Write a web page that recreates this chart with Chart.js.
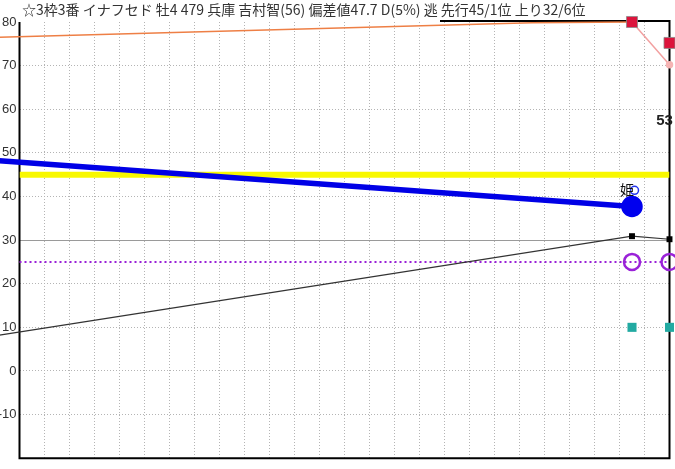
<!DOCTYPE html>
<html>
<head>
<meta charset="utf-8">
<script src="https://cdn.jsdelivr.net/npm/chart.js@4.4.1/dist/chart.umd.min.js"></script>
<style>
  html, body { margin: 0; padding: 0; background: #fff; overflow: hidden; }
  #wrap { position: relative; width: 675px; height: 469px; overflow: hidden; }
  #pace-chart { position: absolute; left: -12px; top: 0; }
</style>
</head>
<body>
<div id="wrap"><canvas id="pace-chart" width="687" height="469"></canvas></div>
<script>
// title line of the horse
const titleText = "☆3枠3番 イナフセド 牡4 479 兵庫 吉村智(56) 偏差値47.7 D(5%) 逃 先行45/1位 上り32/6位";

// y axis ticks
const yTicks = [-20, -10, 0, 10, 20, 30, 40, 50, 60, 70, 80];

// series (x = race slot, y = index value)
const orangeX = [-0.8, 20.5, 24.5];
const orangeY = [76.5, 79.85, 80];
const pinkX = [24.5, 26];
const pinkY = [80, 70.2];
const redX = [26];
const redY = [75.2];
const blueX = [-0.8, 24.5];
const blueY = [48.2, 37.7];
const himeX = [24.6];
const himeY = [41.4];
const yellowX = [0, 26];
const yellowY = [45, 45];
const purpleX = [0, 24.5, 26];
const purpleY = [25, 25, 25];
const blackX = [-0.8, 24.5, 26];
const blackY = [8.2, 30.9, 30.2];
const tealX = [24.5, 26];
const tealY = [10, 10];

function pts(xs, ys) {
    return xs.map(function (x, i) { return { x: x, y: ys[i] }; });
}

const framePlugin = {
    id: 'frame',
    beforeDatasetsDraw: function (chart) {
        const a = chart.chartArea;
        const ctx = chart.ctx;
        ctx.save();
        ctx.strokeStyle = '#000';
        ctx.lineWidth = 2;
        ctx.beginPath();
        ctx.moveTo(a.left, a.top);
        ctx.lineTo(a.left, a.bottom);
        ctx.lineTo(a.right, a.bottom);
        ctx.lineTo(a.right, a.top - 1);
        ctx.lineTo(452, a.top - 1);
        ctx.stroke();
        ctx.restore();
    }
};

const textPlugin = {
    id: 'texts',
    afterDatasetsDraw: function (chart) {
        const ctx = chart.ctx;
        const xs = chart.scales.x, ys = chart.scales.y;
        ctx.save();
        ctx.textBaseline = 'middle';
        ctx.fillStyle = '#333';
        ctx.font = '14px "Noto Sans CJK JP", sans-serif';
        ctx.textAlign = 'left';
        ctx.fillText(titleText, 34, 10);

        ctx.fillStyle = '#111';
        ctx.font = '14px "Noto Sans CJK JP", sans-serif';
        ctx.textAlign = 'center';
        ctx.fillText('姫', xs.getPixelForValue(24.3), ys.getPixelForValue(41.6));

        ctx.font = 'bold 15px "Liberation Sans", Arial, sans-serif';
        ctx.fillStyle = '#222';
        ctx.fillText('53', xs.getPixelForValue(26) - 5, ys.getPixelForValue(57.3));
        ctx.restore();
    }
};

new Chart(document.getElementById("pace-chart"), {
    type: 'scatter',
    data: {
        datasets: [
            {
                label: 'hime',
                data: pts(himeX, himeY),
                pointRadius: 4,
                pointBorderWidth: 1.5,
                pointBorderColor: '#2233ee',
                pointBackgroundColor: '#fff',
                clip: false
            },
            {
                label: 'blue',
                data: pts(blueX, blueY),
                showLine: true,
                borderColor: '#0000e6',
                borderWidth: 5.5,
                pointRadius: [0, 8],
                pointBackgroundColor: '#0000ee',
                pointBorderColor: '#0000ee',
                clip: false
            },
            {
                label: 'orange',
                data: pts(orangeX, orangeY),
                showLine: true,
                borderColor: '#ee7f45',
                borderWidth: 1.5,
                pointStyle: 'rect',
                pointRadius: [0, 0, 7.8],
                pointBackgroundColor: '#dc143c',
                pointBorderColor: 'rgba(140,140,140,0.8)',
                pointBorderWidth: 1,
                clip: false
            },
            {
                label: 'pink',
                data: pts(pinkX, pinkY),
                showLine: true,
                borderColor: '#f2a0a0',
                borderWidth: 1.5,
                pointRadius: [0, 3],
                pointBackgroundColor: '#f6b4b4',
                pointBorderColor: '#f6b4b4',
                clip: false
            },
            {
                label: 'red',
                data: pts(redX, redY),
                pointStyle: 'rect',
                pointRadius: 7.8,
                pointBackgroundColor: '#dc143c',
                pointBorderColor: 'rgba(140,140,140,0.8)',
                pointBorderWidth: 1,
                clip: false
            },
            {
                label: 'black',
                data: pts(blackX, blackY),
                showLine: true,
                borderColor: '#333',
                borderWidth: 1.2,
                pointStyle: 'rect',
                pointRadius: [0, 4.2, 4.2],
                pointBackgroundColor: '#000',
                pointBorderColor: '#000',
                pointBorderWidth: 0,
                clip: false
            },
            {
                label: 'purple',
                data: pts(purpleX, purpleY),
                showLine: true,
                borderColor: '#9a22d8',
                borderWidth: 2,
                borderDash: [2, 3],
                pointRadius: [0, 8, 8],
                pointBorderWidth: 2.5,
                pointBorderColor: '#9a22d8',
                pointBackgroundColor: 'rgba(255,255,255,0)',
                clip: false
            },
            {
                label: 'teal',
                data: pts(tealX, tealY),
                pointStyle: 'rect',
                pointRadius: 6.4,
                pointBackgroundColor: '#22aaa2',
                pointBorderColor: '#22aaa2',
                pointBorderWidth: 0,
                clip: false
            },
            {
                label: 'yellow',
                data: pts(yellowX, yellowY),
                showLine: true,
                borderColor: '#f8f800',
                borderWidth: 6,
                pointRadius: 0
            }
        ]
    },
    options: {
        responsive: false,
        animation: false,
        events: [],
        layout: { autoPadding: false, padding: { top: 22, right: 5.5, bottom: 3.8, left: 0 } },
        plugins: {
            legend: { display: false },
            title: { display: false },
            tooltip: { enabled: false }
        },
        scales: {
            x: {
                type: 'linear',
                min: 0,
                max: 26,
                afterFit: function (scale) { scale.height = 0; },
                ticks: { display: false, stepSize: 1 },
                grid: {
                    color: function (c) { return (c.tick.value === 0 || c.tick.value === 26) ? 'rgba(0,0,0,0)' : '#b4b4b4'; },
                    lineWidth: 1,
                    drawTicks: false
                },
                border: { display: false, dash: [1, 2] }
            },
            y: {
                min: -20,
                max: 80,
                afterFit: function (scale) { scale.width = 31.5; },
                afterBuildTicks: function (scale) {
                    scale.ticks = yTicks.map(function (v) { return { value: v }; });
                },
                ticks: {
                    padding: 3,
                    color: '#333',
                    font: { family: '"Liberation Sans", Arial, sans-serif', size: 13 },
                    callback: function (v) { return v === -20 ? '' : v; }
                },
                grid: {
                    color: function (c) {
                        if (c.tick.value === -20 || c.tick.value === 80) return 'rgba(0,0,0,0)';
                        return c.tick.value === 30 ? '#9a9a9a' : '#b4b4b4';
                    },
                    lineWidth: 1,
                    drawTicks: false
                },
                border: {
                    display: false,
                    dash: function (c) { return (c.tick && c.tick.value === 30) ? [] : [1, 2]; }
                }
            }
        }
    },
    plugins: [framePlugin, textPlugin]
});
</script>
</body>
</html>
